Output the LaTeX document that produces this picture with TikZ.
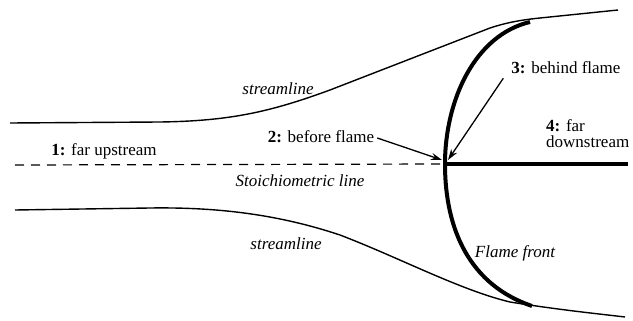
\documentclass[tikz,border=0pt]{standalone}
\usepackage{fontspec}
\setmainfont{Liberation Serif}
\usetikzlibrary{arrows.meta}
\begin{document}
\begin{tikzpicture}[x=1pt,y=-1pt,
  lbl/.style={font=\fontsize{17}{16}\selectfont, inner sep=0pt},
  ilbl/.style={font=\fontsize{17}{16}\selectfont\itshape, inner sep=0pt},
  stream/.style={line width=1.4pt},
  flame/.style={line width=4pt},
  ptr/.style={line width=1.3pt, -{Stealth[length=11pt,width=7pt]}}]
\useasboundingbox (0,0) rectangle (633,321);
% streamlines
\draw[stream] (10,123) -- (160,122) .. controls (230,121) and (270,112) .. (330,90)
  -- (490,28) .. controls (505,23) and (520,20) .. (540,18) -- (618,10);
\draw[stream] (15,210) -- (150,208) .. controls (220,207) and (280,215) .. (340,235)
  .. controls (400,258) and (460,290) .. (510,302) .. controls (560,310) and (600,314) .. (625,317);
% stoichiometric line
\coordinate (v) at (445,164);
\coordinate (dsend) at (628,164);
\coordinate (dsstart) at (15,165);
\draw[line width=1.2pt, dash pattern=on 9pt off 7pt] (dsstart) -- (v);
\draw[line width=3.5pt] (v) -- (dsend);
% flame front
\draw[flame] (530,22) .. controls (475,35) and (445,100) .. (v)
  .. controls (445,230) and (470,285) .. (532,306);
% labels
\node[lbl] (n1) at (104,151) {\textbf{1:} far upstream};
\node[lbl] (n2) at (321,137) {\textbf{2:} before flame};
\node[lbl] (n3) at (566,68) {\textbf{3:} behind flame};
\node[lbl, anchor=north west, align=left] (n4) at (546,119) {\textbf{4:} far\\downstream};
\node[ilbl] (st) at (300,181) {Stoichiometric line};
\node[ilbl] (s1) at (278,89) {streamline};
\node[ilbl] (s2) at (286,244) {streamline};
\node[ilbl] (ff) at (515,253) {Flame front};
% pointers
\coordinate (p2) at (442,160);
\coordinate (p3) at (448,160);
\draw[ptr] (n2.east) ++(3,1) -- (p2);
\draw[ptr] (n3.south west) ++(-8,4) -- (p3);
\end{tikzpicture}
\end{document}
